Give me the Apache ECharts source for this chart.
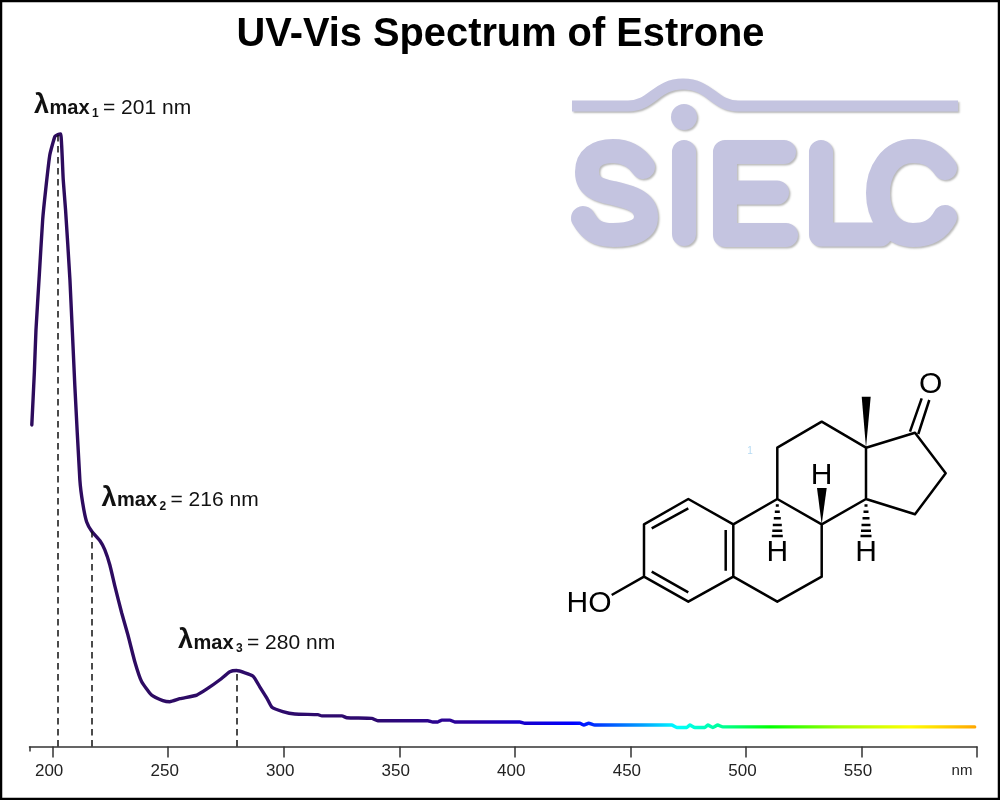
<!DOCTYPE html>
<html>
<head>
<meta charset="utf-8">
<style>html,body{margin:0;padding:0;background:#fff}#c{width:1000px;height:800px}</style>
<script src="https://cdn.jsdelivr.net/npm/echarts@6/dist/echarts.min.js"></script>
</head>
<body>
<div id="c"></div>
<script>
var wavelengths = [191,192.1,192.8,194.2,195.7,197,198.8,201,202.3,203.5,204.6,205.6,207.5,209.6,211.8,213,214.7,217,220.5,222.6,224.8,227,229.9,232.6,235.6,238.5,242.8,247.7,250.7,255.1,262.4,266.8,272.4,276.7,279.6,286.7,289.7,292.7,294.9,299.6,304.8,314.8,316.5,325.2,327.3,338.1,340.7,362.4,364.5,366.7,368.4,371.9,374,402.2,404.3,428.1,429.9,432,434.6,467.9,470.1,474.4,475.7,477.9,482.2,483.5,485.7,487.8,490,599];
var absorbance = [0.525,0.611,0.68,0.767,0.86,0.909,0.966,0.996,0.999,1,0.925,0.876,0.762,0.59,0.435,0.398,0.367,0.351,0.336,0.321,0.296,0.261,0.218,0.182,0.138,0.106,0.084,0.075,0.073,0.078,0.084,0.094,0.109,0.122,0.124,0.115,0.097,0.079,0.064,0.057,0.053,0.052,0.05,0.05,0.047,0.046,0.042,0.042,0.04,0.04,0.043,0.043,0.04,0.04,0.038,0.038,0.035,0.038,0.035,0.035,0.031,0.031,0.035,0.031,0.031,0.035,0.031,0.035,0.032,0.032];
var tickLabels = [200,250,300,350,400,450,500,550];
var peakNm = [202.4,217,279.6];
var peakAbs = [0.999,0.351,0.124];
var peakNames = ['1','2','3'];
var peakText = ['= 201 nm','= 216 nm','= 280 nm'];
var stopNm = [191,340,380,405,425,440,455,470,490,510,540,570,599];
var stopColors = ['#2d0c5c','#2e0a70','#2a00a0','#1500d0','#0000ff','#0050ff','#00a0ff','#00ffff','#00ff90','#00ff00','#a0ff00','#ffff00','#ffa500'];

var FONT = '"Liberation Sans", Arial, sans-serif';
var chart = echarts.init(document.getElementById('c'), null, {renderer:'canvas'});

var stops = stopNm.map(function(n,i){return {offset:(n-191)/(599-191), color:stopColors[i]};});

/* y is the text baseline; zrender draws at the em-box middle */
function txt(x,y,s,size,bold,color,align){
  return {type:'text', x:x, y:y-0.3465*size, silent:true, style:{text:s, font:(bold?'bold ':'')+size+'px '+FONT, fill:color||'#111', align:align||'left', verticalAlign:'middle'}};
}
function peakLabel(x0,y0,name,val){
  return [
    txt(x0-1,y0,'\u03bb',27,true),
    txt(x0+14.5,y0,'max',20,true),
    txt(x0+57,y0+3,name,12,true),
    txt(x0+68,y0,val,21,false)
  ];
}
var labelX=[35,102.5,179], labelY=[115,507.7,650];
var peakEls=[];
peakNames.forEach(function(n,i){peakEls=peakEls.concat(peakLabel(labelX[i],labelY[i],n,peakText[i]));});

function shape(name,d){echarts.graphic.registerShape(name,echarts.graphic.extendPath(d,{}));return name;}

var logoColor='#c4c4e0';
var logoShadow={shadowColor:'rgba(0,0,0,0.28)',shadowBlur:2,shadowOffsetX:1.5,shadowOffsetY:1.5};
var logoLetters='M643,167 C635,155 625,151 613,151 C597,151 587,158 587,172 C587,186 597,190 613,193 C630,197 646,201 646,217 C646,230 632,235 613,235 C597,235 590,230 583,218 '+
 'M684,152 L684,234 '+
 'M784,152 L725,152 L725,235 L786,235 M725,192.5 L777,192.5 '+
 'M821,152 L821,234.5 L880,234.5 '+
 'M945,168 C935,154 925,151 913,151 C890,151 878,172 878,193 C878,214 890,235 913,235 C925,235 937,232 945,217';
var logoEls=[
  {type:shape('logoWave','M572,106 L628,106 C652,106 656,84 683,84 C710,84 714,106 738,106 L958,106'),silent:true,
   style:Object.assign({fill:'none',stroke:logoColor,lineWidth:11,lineCap:'butt',lineJoin:'round'},logoShadow)},
  {type:'circle',silent:true,shape:{cx:684,cy:117,r:13},style:Object.assign({fill:logoColor},logoShadow)},
  {type:shape('logoLetters',logoLetters),silent:true,
   style:Object.assign({fill:'none',stroke:logoColor,lineWidth:24,lineCap:'round',lineJoin:'round'},logoShadow)}
];

var bonds='M644,524.3 L688.3,499 L733.3,524.3 L733.3,576.7 L688.3,601.7 L644,576.7 Z '+
 'M651.7,528.3 L688.3,508.3 M725.7,530 L725.7,570.7 M651.7,571.7 L688.3,592.3 '+
 'M644,576.7 L611.7,595 '+
 'M733.3,524.3 L777.3,499 L821.7,524.3 L821.7,576.7 L777.3,601.7 L733.3,576.7 '+
 'M777.3,499 L777.3,447.7 L821.7,421.7 L866,447.7 L866,499 L821.7,524.3 '+
 'M866,447.7 L915,432.7 L945.7,473.3 L915,514.3 L866,499 '+
 'M910,431.7 L921.7,398.3 M918.3,434 L929.3,400';
function hashAt(cx){
  var ys=[505.5,511.7,518.3,525,530.7,536],ws=[1.5,2.5,3.5,4.5,5,5.5],d='';
  ys.forEach(function(y,i){d+='M'+(cx-ws[i])+','+y+' L'+(cx+ws[i])+','+y+' ';});
  return d;
}
var molEls=[
  {type:shape('molBonds',bonds),silent:true,style:{fill:'none',stroke:'#000',lineWidth:2.5,lineJoin:'round'}},
  {type:shape('molHash',hashAt(777.3)+hashAt(866)),silent:true,style:{fill:'none',stroke:'#000',lineWidth:2.5}},
  {type:'polygon',silent:true,shape:{points:[[866,447.7],[861.7,396.7],[870.7,396.7]]},style:{fill:'#000'}},
  {type:'polygon',silent:true,shape:{points:[[821.7,524.3],[817,488],[826.7,488]]},style:{fill:'#000'}},
  txt(930.7,395,'O',30,false,'#000','center'),
  txt(821.7,486,'H',30,false,'#000','center'),
  txt(777.3,563,'H',30,false,'#000','center'),
  txt(866,563,'H',30,false,'#000','center'),
  txt(589,614,'HO',30,false,'#000','center'),
  txt(750,454.5,'1',10,false,'#b5daf2','center')
];

var option = {
  animation:false,
  backgroundColor:'#fff',
  title:{text:'UV-Vis Spectrum of Estrone',left:495.5,top:10,textAlign:'center',textStyle:{fontFamily:FONT,fontSize:39.8,fontWeight:'bold',color:'#000'}},
  grid:{left:29.5,right:23,top:134,bottom:53.5,containLabel:false},
  xAxis:[{
    type:'value',min:190,max:600,position:'bottom',
    axisLine:{show:true,onZero:false,lineStyle:{color:'#333',width:1.5}},
    axisTick:{show:true,length:11,customValues:tickLabels.concat([600]),lineStyle:{color:'#333',width:1.5}},
    axisLabel:{show:true,customValues:tickLabels,margin:16,padding:[0,7,0,0],fontFamily:FONT,fontSize:17,color:'#222',hideOverlap:false},
    splitLine:{show:false}
  },{
    type:'value',min:190,max:600,position:'bottom',
    axisLine:{show:false},
    axisTick:{show:true,length:5,customValues:[190],lineStyle:{color:'#333',width:1.5}},
    axisLabel:{show:false},splitLine:{show:false}
  }],
  yAxis:{type:'value',min:0,max:1,show:false},
  series:[{
    type:'line',xAxisIndex:0,showSymbol:false,symbol:'none',smooth:0.15,clip:false,
    data:wavelengths.map(function(w,i){return [w,absorbance[i]];}),
    lineStyle:{width:3.4,cap:'round',join:'round',color:new echarts.graphic.LinearGradient(0,0,1,0,stops)},
    z:3,
    markLine:{
      silent:true,symbol:['none','none'],animation:false,label:{show:false},
      lineStyle:{color:'#111',type:[6.5,4.5],width:1.5},
      data:peakNm.map(function(n,i){return [{coord:[n,0]},{coord:[n,peakAbs[i]]}];})
    }
  }],
  graphic:{elements:[
    {type:'rect',silent:true,z:0,shape:{x:1,y:1,width:998,height:798},style:{fill:'none',stroke:'#000',lineWidth:2.5}},
    txt(962,776.5,'nm',15,false,'#222','center')
  ].concat(peakEls,logoEls,molEls)}
};
chart.setOption(option);
</script>
</body>
</html>
